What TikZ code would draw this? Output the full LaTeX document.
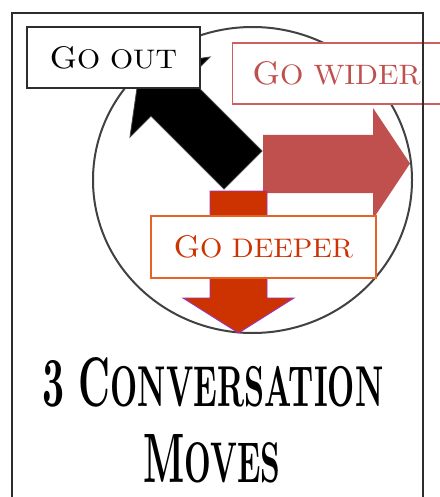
\documentclass[tikz,border=0pt]{standalone}
\definecolor{widerred}{RGB}{192,80,77}
\definecolor{widerline}{RGB}{205,95,95}
\definecolor{deeperred}{RGB}{204,51,0}
\definecolor{deeperedge}{RGB}{160,50,190}
\definecolor{deeperbox}{RGB}{228,100,40}
\definecolor{framegray}{RGB}{45,45,45}
\definecolor{circgray}{RGB}{65,65,65}
\newcommand{\smc}[1]{\scalebox{0.86}{#1}}
\newcommand{\tsmc}[1]{\scalebox{0.82}{#1}}
\tikzset{
  labelbox/.style={fill=white, inner sep=0pt},
  titletext/.style={inner sep=0pt, text=black, font=\bfseries},
}
\begin{document}
\begin{tikzpicture}[x=1pt,y=-1pt]
\useasboundingbox (0,0) rectangle (439,497);
\fill[white] (0,0) rectangle (439,497);
% circle
\draw[circgray, line width=2pt] (252.5,180) ellipse [x radius=159.5, y radius=153];
% black arrow (go out)
\fill[black, draw=black!75, line width=0.8pt]
  (224,189) -- (151,116) -- (130,137) -- (140,67) -- (210,57) -- (189,78) -- (262,151) -- cycle;
% red arrow (go wider)
\fill[widerred]
  (263,135) -- (373,135) -- (373,108) -- (410,163.5) -- (373,219) -- (373,193) -- (263,193) -- cycle;
% orange arrow (go deeper)
\filldraw[fill=deeperred, draw=deeperedge, line width=0.9pt]
  (210,191) -- (267,191) -- (267,298) -- (294,298) -- (238.5,333) -- (183,298) -- (210,298) -- cycle;
% boxes
\node[labelbox, draw=framegray, line width=1.8pt, minimum width=173pt, minimum height=61pt] (goout) at (113.5,57.5)
  {\resizebox{127pt}{22pt}{G\smc{O OUT}}};
\node[labelbox, draw=widerline, line width=1.4pt, minimum height=61pt, anchor=west, inner xsep=20pt, text width=208pt, align=left, text=widerred] (gowider) at (232,73.5)
  {\resizebox{168pt}{23pt}{G\smc{O WIDER}}};
\node[labelbox, draw=deeperbox, line width=1.6pt, minimum width=225pt, minimum height=62pt, text=deeperred] (godeeper) at (263.5,247)
  {\resizebox{179pt}{22pt}{G\smc{O DEEPER}}};
% frame
\draw[framegray, line width=2.6pt] (12,520) -- (12,13) -- (423,13) -- (423,520);
% title
\node[titletext, anchor=south west] (title1) at (42,407) {\resizebox{341pt}{49pt}{3 C\tsmc{ONVERSATION}}};
\node[titletext, anchor=south west] (title2) at (143,483) {\resizebox{137pt}{48pt}{M\tsmc{OVES}}};
\end{tikzpicture}
\end{document}
